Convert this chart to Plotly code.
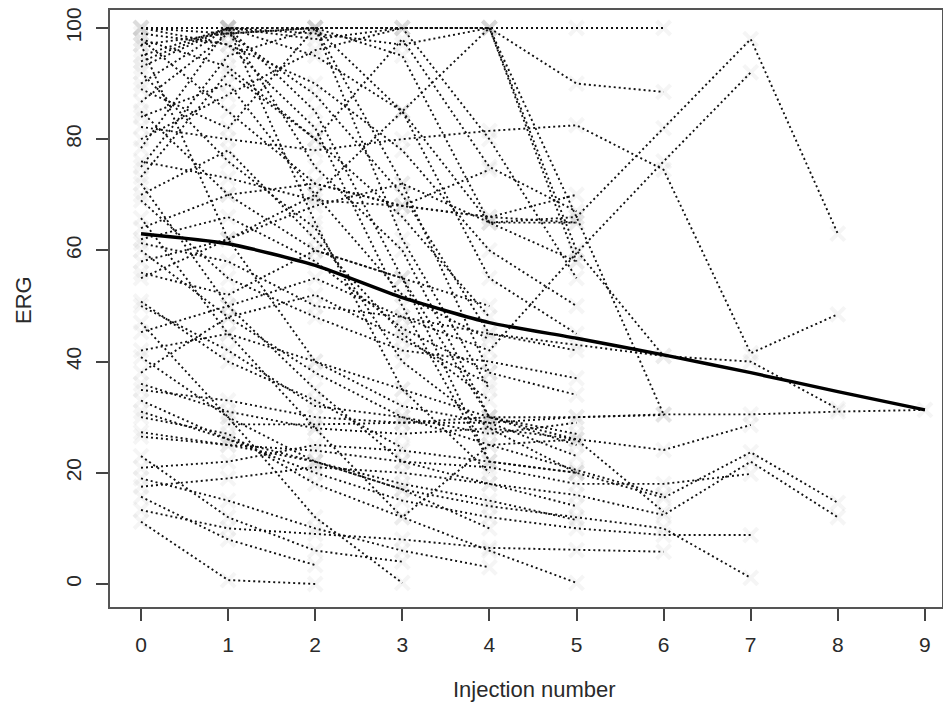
import plotly.graph_objects as go

injection = [0, 1, 2, 3, 4, 5, 6, 7, 8, 9]
x_ticks = [0, 1, 2, 3, 4, 5, 6, 7, 8, 9]
y_ticks = [0, 20, 40, 60, 80, 100]

mean_erg = [63, 61.2, 57.3, 51.5, 47, 44.2, 41.2, 38, 34.6, 31.3]

s01 = [100, 100, 100, 100, 100, 100, 100]
s02 = [97, 99, 100, 100, 100, 90, 88.5]
s03 = [100, 100, 98, 100, 100, 66, 30.5]
s04 = [94, 100, 99, 97, 100, 58]
s05 = [95, 100, 100, 85, 55, 45]
s06 = [100, 99, 88, 70, 45, 42]
s07 = [93, 100, 75, 60, 30, 27]
s08 = [86.7, 99, 100, 62, 35]
s09 = [89, 82, 100, 95, 65, 58]
s10 = [78.4, 100, 85, 55, 22, 20]
s11 = [75, 95, 100, 72, 38]
s12 = [73.2, 92, 80, 98, 75, 67]
s13 = [82.2, 80, 78, 80, 81.5, 82.5, 74.5, 41.5, 48.5]
s14 = [58, 62, 68, 72, 65, 66, 82, 98, 63]
s15 = [45.3, 50, 55, 48, 42, 59.5, 76, 92]
s16 = [34.9, 33, 30, 29, 30, 30, 30.5, 30.5, 31, 31.3]
s17 = [61.3, 58, 50, 48, 45, 43, 41, 40, 31.5]
s18 = [20.9, 22, 25, 24, 22, 20, 15.5, 23.7, 14.6]
s19 = [17.5, 19, 21, 20, 18, 16, 12.4, 22, 12]
s20 = [27.3, 25, 24, 22, 21, 18, 18, 19.8]
s21 = [31, 26, 20, 15, 12, 10, 8.8, 8.8]
s22 = [40.8, 30, 22, 17, 14, 12, 10, 1.1]
s23 = [36, 31, 28, 27, 28, 26, 24.1, 28.6]
s24 = [11.2, 0.7, 0]
s25 = [15.7, 8, 3.4]
s26 = [47, 30, 12, 0.2]
s27 = [50.8, 40, 33, 24.5]
s28 = [65.8, 45, 28, 12, 25, 26]
s29 = [19, 15, 10, 6, 3]
s30 = [30, 27, 18, 12, 6, 0.2]
s31 = [69, 55, 48, 42, 40, 37]
s32 = [26.5, 25, 22, 18, 15, 11.5]
s33 = [13.3, 10, 9, 8, 6.5, 6.1, 5.8]
s34 = [None, 28.7, 28.7, 29, 29, 30, 30.4]
s35 = [64, 70, 72, 68, 66, 65]
s36 = [76, 73, 69, 68, 74.5]
s37 = [99, 97, 90, 78, 60, 50]
s38 = [98, 85, 72, 68, 66, 70]
s39 = [55, 62, 70, 85, 100, 60, 41]
s40 = [100, 97, 82, 50, 22]
s41 = [90, 100, 65, 35, 20]
s42 = [85, 70, 60, 55, 30, 25]
s43 = [72, 50, 35, 22, 18, 14]
s44 = [60, 48, 38, 30, 25, 20.5, 16]
s45 = [42, 45, 40, 35, 30, 26, 13]
s46 = [33, 26, 22, 17, 10]
s47 = [23, 12, 6, 4]
s48 = [50, 42, 32, 30, 27, 29]
s49 = [97, 62, 40, 32, 29, 23]
s50 = [None, 100, 95, 85, 65, 65]
s51 = [80, 88, 96, 100, 80, 55]
s52 = [70, 78, 62, 45, 33]
s53 = [98, 93, 80, 66, 48]
s54 = [56, 52, 60, 55, 50]
s55 = [38, 48, 52, 44, 36]
s56 = [92, 76, 64, 40, 28, 20]
s57 = [62, 66, 58, 46, 38, 34]
s58 = [84, 90, 70, 52, 44]

subjects = [s01, s02, s03, s04, s05, s06, s07, s08, s09, s10,
            s11, s12, s13, s14, s15, s16, s17, s18, s19, s20,
            s21, s22, s23, s24, s25, s26, s27, s28, s29, s30,
            s31, s32, s33, s34, s35, s36, s37, s38, s39, s40,
            s41, s42, s43, s44, s45, s46, s47, s48, s49, s50,
            s51, s52, s53, s54, s55, s56, s57, s58]

fig = go.Figure()

for s in subjects:
    xs = injection[:len(s)]
    fig.add_trace(go.Scatter(
        x=xs, y=s, mode="markers",
        marker=dict(symbol="x-thin", size=14, color="rgba(160,160,160,0.10)",
                    line=dict(width=4, color="rgba(160,160,160,0.10)")),
        showlegend=False, hoverinfo="skip",
    ))

for s in subjects:
    xs = injection[:len(s)]
    fig.add_trace(go.Scatter(
        x=xs, y=s, mode="lines",
        line=dict(color="#111111", width=1.9, dash="2px,3px"),
        showlegend=False, hoverinfo="skip", connectgaps=False,
    ))

fig.add_trace(go.Scatter(
    x=injection, y=mean_erg, mode="lines",
    line=dict(color="black", width=3.4, shape="spline", smoothing=0.6),
    showlegend=False,
))

tick_font = dict(family="Liberation Sans, Arial, sans-serif", size=21, color="#2a2a2a")
title_font = dict(family="Liberation Sans, Arial, sans-serif", size=22, color="#2a2a2a")

# the page body adds an 8 px offset, so the figure is sized to fit inside it
W, H = 935, 695
ML, MR, MT, MB = 102, 1, 2, 96
pw = W - ML - MR
ph = H - MT - MB
px_per_unit_x = 87.1
px_per_unit_y = 5.56

fig.update_layout(
    width=W, height=H,
    margin=dict(l=ML, r=MR, t=MT, b=MB),
    paper_bgcolor="white", plot_bgcolor="white",
    xaxis=dict(
        range=[-0.356, -0.356 + pw / px_per_unit_x], tickvals=x_ticks,
        ticktext=[str(v) for v in x_ticks],
        ticks="outside", ticklen=12, tickwidth=1.5, tickcolor="#444",
        showline=True, mirror=True, linecolor="#555", linewidth=2,
        showgrid=False, zeroline=False, tickfont=tick_font,
        automargin=False, ticklabelstandoff=6, ticklabeloverflow="allow",
    ),
    yaxis=dict(
        range=[-4.14, -4.14 + ph / px_per_unit_y], tickvals=y_ticks,
        ticktext=[str(v) for v in y_ticks],
        ticks="outside", ticklen=12, tickwidth=1.5, tickcolor="#444",
        showline=True, mirror=True, linecolor="#555", linewidth=2,
        showgrid=False, zeroline=False, tickfont=tick_font, tickangle=-90,
        automargin=False, ticklabelstandoff=7, ticklabeloverflow="allow",
    ),
    annotations=[
        dict(text="Injection number", xref="paper", yref="paper",
             x=(534 - 8 - ML) / pw, y=(H - MB - (690 - 8)) / ph,
             xanchor="center", yanchor="middle", showarrow=False, font=title_font),
        dict(text="ERG", xref="paper", yref="paper",
             x=(23 - 8 - ML) / pw, y=(H - MB - (300 - 8)) / ph, textangle=-90,
             xanchor="center", yanchor="middle", showarrow=False, font=title_font),
    ],
)

fig.write_html("out.html")
